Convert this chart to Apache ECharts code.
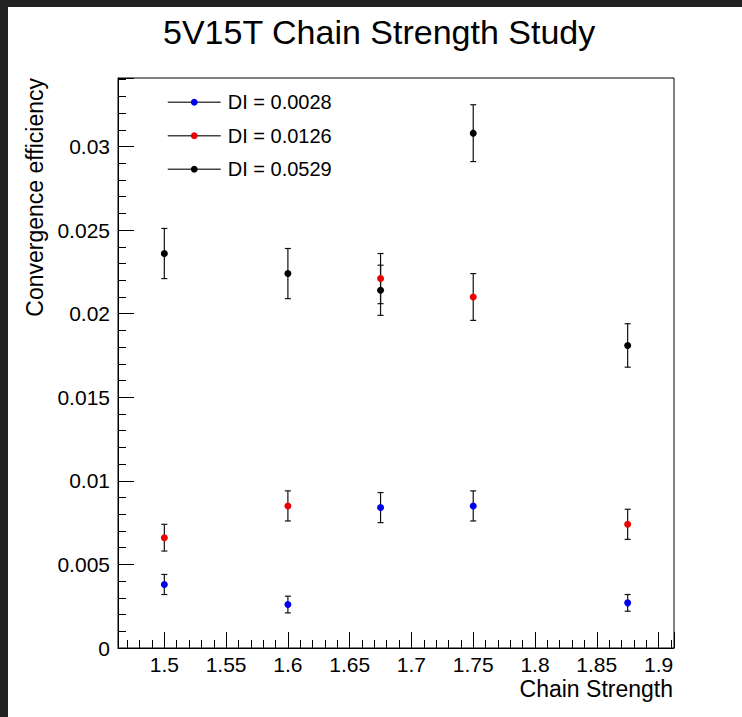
<!DOCTYPE html>
<html>
<head>
<meta charset="utf-8">
<script src="https://cdn.jsdelivr.net/npm/echarts@6/dist/echarts.min.js"></script>
<style>
  html, body { margin: 0; padding: 0; background: #212121; width: 742px; height: 717px; overflow: hidden; }
  #chart { position: absolute; left: 8px; top: 7px; width: 734px; height: 710px; background: #ffffff; }
</style>
</head>
<body>
<div id="chart"></div>
<script>
// ---- data ----
const chainStrength = [1.5, 1.6, 1.675, 1.75, 1.875];

const seriesNames = ['DI = 0.0028', 'DI = 0.0126', 'DI = 0.0529'];
const seriesColors = ['#0000ee', '#ee0000', '#000000'];

const eff0028 = [0.0038, 0.0026, 0.0084, 0.0085, 0.0027];
const err0028 = [0.0006, 0.0005, 0.0009, 0.0009, 0.0005];

const eff0126 = [0.0066, 0.0085, 0.0221, 0.0210, 0.0074];
const err0126 = [0.0008, 0.0009, 0.0015, 0.0014, 0.0009];

const eff0529 = [0.0236, 0.0224, 0.0214, 0.0308, 0.0181];
const err0529 = [0.0015, 0.0015, 0.0015, 0.0017, 0.0013];

const titleText = '5V15T Chain Strength Study';
const xTitle = 'Chain Strength';
const yTitle = 'Convergence efficiency';

// ---- build ----
const values = [eff0028, eff0126, eff0529];
const errors = [err0028, err0126, err0529];
const FONT = '"Liberation Sans", Arial, Helvetica, sans-serif';

const chart = echarts.init(document.getElementById('chart'), null, { renderer: 'svg' });

const series = [];
values.forEach(function (vals, s) {
  series.push({
    name: 'err' + s,
    type: 'custom',
    z: 2,
    silent: true,
    encode: { x: 0, y: 1 },
    data: chainStrength.map(function (x, i) { return [x, vals[i], errors[s][i]]; }),
    renderItem: function (params, api) {
      const x = api.value(0), y = api.value(1), e = api.value(2);
      const top = api.coord([x, y + e]);
      const bot = api.coord([x, y - e]);
      const cap = 3;
      const st = { stroke: '#111', lineWidth: 1.2 };
      return {
        type: 'group',
        children: [
          { type: 'line', shape: { x1: top[0], y1: top[1], x2: bot[0], y2: bot[1] }, style: st },
          { type: 'line', shape: { x1: top[0] - cap, y1: top[1], x2: top[0] + cap, y2: top[1] }, style: st },
          { type: 'line', shape: { x1: bot[0] - cap, y1: bot[1], x2: bot[0] + cap, y2: bot[1] }, style: st }
        ]
      };
    }
  });
});
values.forEach(function (vals, s) {
  series.push({
    name: seriesNames[s],
    type: 'line',
    z: 3 + s,
    symbol: 'circle',
    symbolSize: 7,
    showSymbol: true,
    lineStyle: { opacity: 0, width: 0 },
    itemStyle: { color: seriesColors[s] },
    data: chainStrength.map(function (x, i) { return [x, vals[i]]; })
  });
});

chart.setOption({
  animation: false,
  backgroundColor: '#ffffff',
  title: {
    text: titleText,
    left: 150,
    top: 3,
    textStyle: { fontFamily: FONT, fontSize: 34, fontWeight: 'normal', color: '#000' }
  },
  legend: {
    data: seriesNames,
    orient: 'vertical',
    left: 154,
    top: 79,
    itemWidth: 53,
    itemHeight: 8.5,
    itemGap: 11,
    lineStyle: { color: '#444', width: 1.5, opacity: 1 },
    textStyle: { fontFamily: FONT, fontSize: 20, color: '#000', lineHeight: 22.5, padding: [0, 0, 0, 2] },
    selectedMode: false
  },
  grid: {
    left: 110, top: 71, right: 68, bottom: 69,
    show: true, borderColor: '#000', borderWidth: 1, backgroundColor: 'transparent'
  },
  xAxis: {
    type: 'value',
    min: 1.4625,
    max: 1.9125,
    splitNumber: 9,
    axisLine: { show: true, lineStyle: { color: '#000', width: 1 } },
    axisTick: { show: true, inside: true, length: 16, lineStyle: { color: '#000', width: 1 } },
    minorTick: { show: true, splitNumber: 5, length: 8, lineStyle: { color: '#000', width: 1 } },
    splitLine: { show: false },
    axisLabel: { showMinLabel: false, showMaxLabel: false, margin: 6, fontFamily: FONT, fontSize: 21, color: '#000' }
  },
  yAxis: {
    type: 'value',
    min: 0,
    max: 0.0341,
    splitNumber: 7,
    axisLine: { show: true, lineStyle: { color: '#000', width: 1 } },
    axisTick: { show: true, inside: true, length: 16, lineStyle: { color: '#000', width: 1 } },
    minorTick: { show: true, splitNumber: 5, length: 8, lineStyle: { color: '#000', width: 1 } },
    splitLine: { show: false },
    axisLabel: { showMaxLabel: false, margin: 8, fontFamily: FONT, fontSize: 21, color: '#000' }
  },
  graphic: [
    {
      type: 'text', x: 665, y: 682,
      style: { text: xTitle, fontFamily: FONT, fontSize: 23, fill: '#000', align: 'right', verticalAlign: 'middle' }
    },
    {
      type: 'text', x: 27, y: 71, rotation: Math.PI / 2,
      style: { text: yTitle, fontFamily: FONT, fontSize: 23, fill: '#000', align: 'right', verticalAlign: 'middle' }
    }
  ],
  series: series
});
</script>
</body>
</html>
